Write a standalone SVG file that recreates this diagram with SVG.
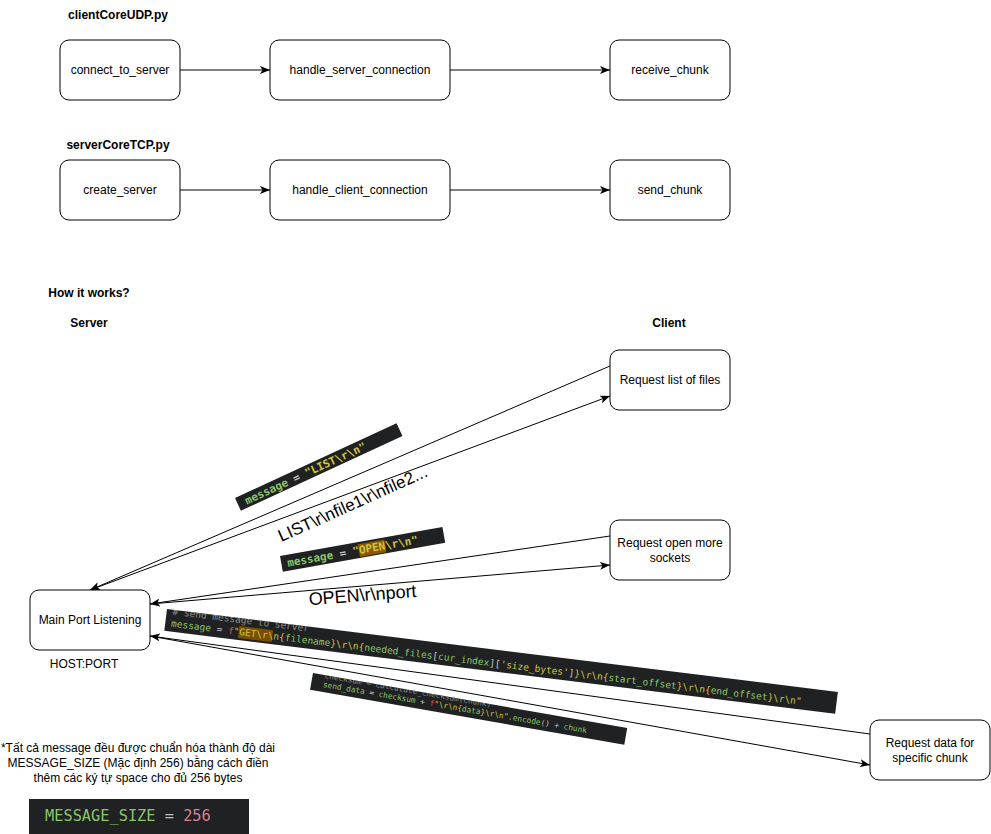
<svg xmlns="http://www.w3.org/2000/svg" width="991" height="834" viewBox="0 0 991 834">
<style>
.node rect{fill:#fff;stroke:#000;stroke-width:1}
.nt{font-family:"Liberation Sans",Arial,Helvetica,sans-serif;font-size:12px;fill:#000;text-anchor:middle}
.title{font-family:"Liberation Sans",Arial,Helvetica,sans-serif;font-size:12px;font-weight:bold;fill:#000;text-anchor:middle}
.edge{fill:none;stroke:#000;stroke-width:1}
.lbl{font-family:"Liberation Sans",Arial,Helvetica,sans-serif;fill:#000;text-anchor:middle}
.code{font-family:"DejaVu Sans Mono","Liberation Mono",monospace;white-space:pre}
.cbg{fill:#1f2122}
.g{fill:#8cc46a}.w{fill:#c4c4c4}.y{fill:#cfc63c}.r{fill:#e5484a}.b{fill:#dcb64a}.c{fill:#8a8f8a}.p{fill:#d67f93}
</style>
<defs>
<marker id="arr" viewBox="0 0 10 8" refX="10" refY="4" markerWidth="10" markerHeight="8" markerUnits="userSpaceOnUse" orient="auto">
<path d="M0,0 L10,4 L0,8 L2.5,4 Z" fill="#000"/>
</marker>
<clipPath id="clipGet"><rect x="0" y="0" width="676" height="22"/></clipPath>
<clipPath id="clipSend"><rect x="0" y="0" width="319" height="17"/></clipPath>
</defs>

<text class="title" x="118" y="19">clientCoreUDP.py</text>
<text class="title" x="118" y="149">serverCoreTCP.py</text>
<text class="title" x="89" y="297">How it works?</text>
<text class="title" x="89" y="327">Server</text>
<text class="title" x="669" y="327">Client</text>

<g id="connectors">
<line class="edge" x1="180" y1="70" x2="270" y2="70" marker-end="url(#arr)"/>
<line class="edge" x1="450" y1="70" x2="610" y2="70" marker-end="url(#arr)"/>
<line class="edge" x1="180" y1="190" x2="270" y2="190" marker-end="url(#arr)"/>
<line class="edge" x1="450" y1="190" x2="610" y2="190" marker-end="url(#arr)"/>
<line class="edge" x1="610" y1="366" x2="90" y2="590" marker-end="url(#arr)"/>
<line class="edge" x1="90" y1="590" x2="610" y2="396" marker-end="url(#arr)"/>
<line class="edge" x1="610" y1="536" x2="150" y2="604" marker-end="url(#arr)"/>
<line class="edge" x1="150" y1="604" x2="610" y2="565" marker-end="url(#arr)"/>
<line class="edge" x1="870" y1="734" x2="150" y2="636" marker-end="url(#arr)"/>
<line class="edge" x1="150" y1="636" x2="870" y2="765" marker-end="url(#arr)"/>
</g>

<g id="n-connect" class="node"><rect x="60" y="40" width="120" height="60" rx="9"/><text class="nt" x="120" y="74">connect_to_server</text></g>
<g id="n-handle-server" class="node"><rect x="270" y="40" width="180" height="60" rx="9"/><text class="nt" x="360" y="74">handle_server_connection</text></g>
<g id="n-receive" class="node"><rect x="610" y="40" width="120" height="60" rx="9"/><text class="nt" x="670" y="74">receive_chunk</text></g>
<g id="n-create" class="node"><rect x="60" y="160" width="120" height="60" rx="9"/><text class="nt" x="120" y="194">create_server</text></g>
<g id="n-handle-client" class="node"><rect x="270" y="160" width="180" height="60" rx="9"/><text class="nt" x="360" y="194">handle_client_connection</text></g>
<g id="n-send" class="node"><rect x="610" y="160" width="120" height="60" rx="9"/><text class="nt" x="670" y="194">send_chunk</text></g>
<g id="n-list" class="node"><rect x="610" y="350" width="120" height="60" rx="9"/><text class="nt" x="670" y="384">Request list of files</text></g>
<g id="n-open" class="node"><rect x="610" y="520" width="120" height="60" rx="9"/><text class="nt" x="670" y="547">Request open more</text><text class="nt" x="670" y="562">sockets</text></g>
<g id="n-main" class="node"><rect x="30" y="590" width="120" height="60" rx="9"/><text class="nt" x="90" y="624">Main Port Listening</text></g>
<g id="n-data" class="node"><rect x="870" y="720" width="120" height="60" rx="9"/><text class="nt" x="930" y="747">Request data for</text><text class="nt" x="930" y="762">specific chunk</text></g>
<text class="nt" x="84" y="668">HOST:PORT</text>

<g id="code-list" transform="translate(235,498) rotate(-24.8)">
<rect class="cbg" x="0" y="0" width="178" height="14"/>
<text class="code" x="8" y="11" font-size="11" font-weight="bold"><tspan class="g">message</tspan><tspan class="w"> = </tspan><tspan class="y">"LIST\r\n"</tspan></text>
</g>
<text class="lbl" font-size="17" transform="translate(355,509) rotate(-24.2)">LIST\r\nfile1\r\nfile2...</text>

<g id="code-open" transform="translate(280,556) rotate(-10.15)">
<rect class="cbg" x="0" y="0" width="165" height="16"/>
<rect x="78.5" y="2" width="27" height="13" fill="#8a5500"/>
<text class="code" x="6" y="12" font-size="11" font-weight="bold"><tspan class="g">message</tspan><tspan class="w"> = </tspan><tspan class="y">"OPEN\r\n"</tspan></text>
</g>
<text class="lbl" font-size="18" transform="translate(363,601) rotate(-4.4)">OPEN\r\nport</text>

<g id="code-get" transform="translate(167,609) rotate(7.05)">
<rect class="cbg" x="0" y="0" width="676" height="22"/>
<g clip-path="url(#clipGet)">
<text class="code c" x="6" y="5" font-size="9.5"># send message to server</text>
<rect x="74" y="8" width="34" height="12" fill="#7a4e00"/>
<text class="code" x="6" y="17" font-size="9.5"><tspan class="g">message</tspan><tspan class="w"> = </tspan><tspan class="r">f</tspan><tspan class="y">"GET\r\n</tspan><tspan class="b">{</tspan><tspan class="g">filename</tspan><tspan class="b">}</tspan><tspan class="y">\r\n</tspan><tspan class="b">{</tspan><tspan class="g">needed_files</tspan><tspan class="w">[</tspan><tspan class="g">cur_index</tspan><tspan class="w">][</tspan><tspan class="y">'size_bytes'</tspan><tspan class="w">]</tspan><tspan class="b">}</tspan><tspan class="y">\r\n</tspan><tspan class="b">{</tspan><tspan class="g">start_offset</tspan><tspan class="b">}</tspan><tspan class="y">\r\n</tspan><tspan class="b">{</tspan><tspan class="g">end_offset</tspan><tspan class="b">}</tspan><tspan class="y">\r\n"</tspan></text>
</g>
</g>

<g id="code-send" transform="translate(313,673) rotate(9.93)">
<rect class="cbg" x="0" y="0" width="319" height="17"/>
<g clip-path="url(#clipSend)">
<text class="code c" x="12" y="3" font-size="7.8">checksum = calculate_checksum(chunk)</text>
<text class="code" x="12" y="12" font-size="7.8"><tspan class="g">send_data</tspan><tspan class="w"> = </tspan><tspan class="g">checksum</tspan><tspan class="w"> + </tspan><tspan class="r">f</tspan><tspan class="y">"\r\n</tspan><tspan class="b">{</tspan><tspan class="g">data</tspan><tspan class="b">}</tspan><tspan class="y">\r\n"</tspan><tspan class="w">.</tspan><tspan class="g">encode</tspan><tspan class="w">() + </tspan><tspan class="g">chunk</tspan></text>
</g>
</g>

<g id="note">
<text class="nt" x="138" y="752">*Tất cả message đều được chuẩn hóa thành độ dài</text>
<text class="nt" x="138" y="767">MESSAGE_SIZE (Mặc định 256) bằng cách điền</text>
<text class="nt" x="138" y="782">thêm các ký tự space cho đủ 256 bytes</text>
</g>
<g id="code-size">
<rect class="cbg" x="29" y="799" width="220" height="35"/>
<text class="code" x="45" y="821" font-size="15.3"><tspan class="g">MESSAGE_SIZE</tspan><tspan class="w"> = </tspan><tspan class="p">256</tspan></text>
</g>
</svg>
